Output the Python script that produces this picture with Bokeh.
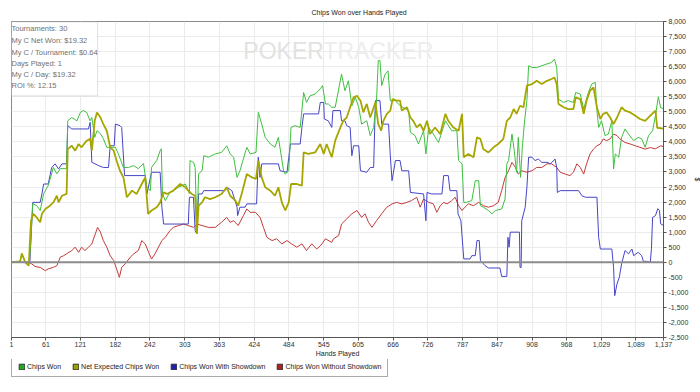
from bokeh.plotting import figure
from bokeh.layouts import column
from bokeh.models import (Range1d, FixedTicker, SingleIntervalTicker, NumeralTickFormatter,
                          Span, Legend, LegendItem, Label, BoxAnnotation)
from bokeh.embed import file_html
from bokeh.resources import INLINE

# ---------------- data ----------------
TITLE = "Chips Won over Hands Played"
X_LABEL = "Hands Played"
Y_LABEL = "$"
x_ticks = [1, 61, 121, 182, 242, 303, 363, 424, 484, 545, 605, 666, 726, 787, 847, 908, 968, 1029, 1089, 1137]
series_names = ["Chips Won", "Net Expected Chips Won", "Chips Won With Showdown", "Chips Won Without Showdown"]
stats_lines = ["Tournaments: 30", "My C Net Won: $19.32", "My C / Tournament: $0.64",
               "Days Played: 1", "My C / Day: $19.32", "ROI %: 12.15"]

# (hand, chips)
chips_won = [(1,0),(16,30),(19,290),(25,0),(31,-110),(34,500),(38,1950),(45,1880),(51,1720),(57,2280),(65,2550),
    (74,3150),(80,2940),(86,3110),(97,3110),(99,4700),(106,4810),(115,4700),(121,4980),(126,5040),(132,4980),
    (138,4700),(141,4810),(146,4150),(150,4370),(156,4270),(161,4110),(167,3820),(173,3820),(182,3820),(187,3610),
    (196,3150),(205,3150),(214,3210),(222,3110),(231,3280),(237,2490),(243,2380),(245,3150),(254,3380),(260,3710),
    (262,3770),(264,2280),(269,2050),(277,2320),(283,2380),(292,2490),(304,2600),(311,2280),(312,3380),(318,3320),
    (321,3150),(324,1050),(327,2940),(333,3040),(336,3540),(344,3490),(356,3600),(367,3650),(376,3870),(382,3600),
    (388,3490),(394,2820),(399,3040),(411,3820),(417,3600),(427,3650),(431,4980),(437,4590),(443,4150),(452,3930),
    (460,3820),(466,4150),(475,3040),(478,2930),(484,3040),(488,4480),(495,4540),(504,4480),(510,5640),(515,5310),
    (521,5530),(530,5590),(539,5760),(543,5870),(548,5260),(553,5260),(559,5150),(565,5150),(576,6250),(582,5700),
    (588,6030),(594,5200),(600,5480),(606,5150),(611,4590),(620,4700),(626,4210),(632,4480),(637,5370),(640,6700),
    (643,6700),(646,5870),(652,6250),(657,6360),(661,5370),(670,5370),(678,5200),(693,5040),(696,4320),(704,4210),
    (710,3930),(719,4370),(723,3600),(728,4480),(736,4260),(745,3980),(757,4700),(768,4370),(777,4370),(780,3380),
    (786,3270),(789,1990),(794,1990),(803,2050),(809,2710),(815,2710),(818,1880),(823,1830),(832,1720),(838,1610),
    (844,1720),(855,1770),(861,2100),(864,3270),(867,3380),(873,4260),(877,3710),(881,2990),(884,4150),(888,2820),
    (891,3820),(895,4700),(899,5370),(902,6530),(908,6470),(916,6470),(925,6530),(934,6590),(942,6640),(947,6750),
    (951,6470),(954,5420),(963,5310),(971,5370),(980,5310),(984,5640),(992,5590),(998,5090),(1002,5370),(1006,5640),
    (1012,5920),(1018,5980),(1021,5040),(1024,4480),(1029,4700),(1035,4210),(1041,4260),(1047,4700),(1050,3100),
    (1053,3600),(1059,3490),(1064,4150),(1070,4430),(1076,4260),(1085,4040),(1093,4150),(1099,4100),(1105,3820),
    (1111,4210),(1118,4370),(1123,4870),(1128,5500),(1132,5140),(1137,5100)]

net_expected = [(1,0),(16,30),(19,290),(25,0),(31,-110),(35,1380),(39,1610),(45,1490),(51,1330),(54,1610),(60,1770),
    (68,1880),(74,1990),(80,2210),(83,1990),(89,2210),(97,2270),(99,3760),(106,3870),(112,3710),(118,3930),(123,3820),
    (132,4040),(138,4100),(141,3710),(146,4700),(150,4980),(156,4810),(161,4590),(167,4370),(173,3820),(179,3710),
    (184,3380),(190,3040),(196,2820),(202,2160),(211,2380),(219,2270),(228,2600),(234,2820),(239,1610),(245,1720),
    (254,1830),(260,1990),(266,2320),(272,2270),(283,2380),(286,2440),(295,2600),(304,2490),(309,2380),(315,2270),
    (321,2210),(324,940),(327,1880),(333,1990),(338,2160),(347,2100),(356,2160),(367,2270),(376,2490),(382,2210),
    (391,2050),(396,1880),(402,2270),(411,2930),(420,2820),(427,2770),(431,3380),(437,2820),(443,2490),(452,2380),
    (460,2210),(466,2490),(472,1990),(478,1720),(484,1990),(488,2600),(498,2600),(507,2550),(510,3650),(518,3600),
    (530,3650),(539,3930),(545,3600),(550,3930),(559,3490),(565,4040),(574,4480),(579,4700),(585,4810),(591,5150),
    (597,5480),(603,5530),(609,5370),(614,4980),(620,5260),(626,4810),(635,5310),(640,4590),(645,4370),(649,4700),
    (655,4930),(661,5040),(665,5420),(672,5370),(678,5370),(681,5040),(690,5150),(696,4810),(701,4700),(707,4480),
    (713,4590),(719,4370),(725,4700),(730,4260),(739,4480),(748,4260),(757,4930),(762,4700),(771,4480),(780,4370),
    (786,4930),(789,3490),(797,3600),(806,3490),(812,4150),(818,4100),(823,3760),(832,3650),(841,3820),(849,3930),
    (858,4100),(864,4700),(870,4810),(876,5090),(881,4930),(887,5200),(893,5150),(899,5870),(908,5920),(916,6030),
    (925,5920),(934,6030),(942,6090),(947,6140),(951,5920),(954,5260),(963,5150),(971,5090),(980,5090),(984,5480),
    (992,5420),(998,4930),(1003,5370),(1009,5700),(1015,5810),(1021,5150),(1027,4760),(1032,4930),(1038,4980),
    (1044,4810),(1050,4590),(1056,4810),(1064,5150),(1070,5040),(1079,4980),(1088,4870),(1096,4760),(1105,4700),
    (1114,4870),(1123,5040),(1126,4470),(1137,4440)]

with_showdown = [(1,0),(16,0),(25,0),(33,0),(38,1990),(51,1990),(54,2270),(57,2600),(65,2600),(71,3150),(77,3270),
    (83,3100),(89,3270),(97,3270),(99,4540),(106,4430),(135,4430),(138,4650),(141,3320),(153,3210),(161,3150),
    (170,3150),(173,3870),(180,3870),(182,4590),(190,4540),(193,4480),(198,2880),(234,2880),(237,2270),(245,2990),
    (260,2990),(263,1830),(266,1270),(309,1270),(311,2160),(318,2160),(321,1050),(324,940),(327,2270),(333,2270),
    (336,2380),(373,2380),(376,2490),(385,2380),(394,1830),(395,1550),(399,1830),(408,1830),(411,1940),(428,1940),
    (431,3490),(434,2820),(437,3270),(466,3270),(469,3040),(481,2990),(487,3930),(504,3930),(507,4480),(510,4930),
    (536,4930),(539,5310),(545,5310),(546,4760),(553,4700),(559,4480),(561,5040),(574,5040),(576,4700),(582,4700),
    (585,4540),(591,4480),(594,3540),(597,3870),(606,3870),(609,3040),(620,2990),(626,3150),(632,3150),(635,5370),
    (643,5370),(646,4590),(658,4590),(661,3540),(664,2710),(670,3380),(678,3380),(681,3040),(693,3040),(696,2320),
    (719,2270),(723,1380),(725,2320),(733,2270),(751,2270),(754,2880),(762,2880),(765,2380),(777,2380),(779,1610),
    (784,1380),(789,110),(800,110),(803,220),(809,220),(812,720),(816,720),(818,60),(826,-110),(832,-190),(852,-190),
    (855,-470),(864,-470),(866,830),(868,500),(870,1000),(886,1000),(887,-170),(889,-170),(890,1380),(896,1830),
    (899,2490),(902,3490),(908,3490),(913,3380),(919,3430),(925,3320),(934,3320),(940,3270),(948,3430),(951,3150),
    (952,2320),(957,2380),(989,2380),(995,2210),(1001,2160),(1021,2160),(1024,830),(1027,440),(1047,440),(1050,-170),
    (1052,-1110),(1056,-720),(1060,-500),(1064,-50),(1070,390),(1076,280),(1082,440),(1085,220),(1093,330),(1099,220),
    (1102,30),(1108,30),(1114,0),(1116,450),(1118,1490),(1123,1550),(1127,1780),(1130,1720),(1132,1280),(1137,1220)]

without_showdown = [(1,0),(16,0),(25,0),(31,0),(36,-50),(42,-140),(51,-170),(60,-280),(65,-220),(74,-170),(80,-110),
    (86,170),(92,220),(97,280),(106,390),(112,500),(118,330),(123,500),(129,390),(135,500),(141,610),(147,940),
    (151,1160),(156,1000),(161,720),(167,500),(173,220),(179,60),(184,-220),(189,-500),(193,-170),(199,-50),(208,170),
    (214,280),(222,390),(228,720),(234,610),(240,330),(245,110),(251,280),(257,500),(263,720),(269,830),(277,1050),
    (283,1160),(292,1220),(301,1270),(309,1220),(318,1160),(324,1270),(333,1220),(344,1160),(356,1160),(367,1330),
    (376,1490),(382,1330),(388,1380),(396,1220),(405,1550),(411,1770),(417,1660),(426,1660),(434,1490),(440,1160),
    (446,830),(455,720),(463,780),(472,610),(481,720),(489,610),(498,500),(507,610),(515,390),(524,610),(533,440),
    (542,610),(548,780),(559,660),(562,780),(571,890),(576,1270),(585,1440),(594,1610),(603,1720),(611,1490),
    (617,1610),(623,1330),(629,1160),(637,1380),(646,1610),(655,1830),(664,1940),(672,1990),(681,1940),(690,1990),
    (698,2050),(707,2160),(713,1830),(719,2100),(728,1990),(736,1940),(742,1660),(748,1880),(754,1990),(760,1940),
    (768,2050),(774,2160),(780,1880),(786,1720),(791,1830),(797,1940),(806,1880),(815,1990),(823,1880),(832,1830),
    (841,1880),(849,1990),(855,2380),(861,2820),(867,3040),(873,3320),(879,3150),(884,2930),(890,3040),(899,2990),
    (908,3040),(916,3150),(925,3150),(934,3270),(942,3270),(951,3150),(957,2990),(966,2930),(974,2880),(980,2990),
    (986,3270),(992,3150),(998,2930),(1003,3270),(1009,3600),(1015,3760),(1021,3870),(1027,3930),(1032,4100),
    (1038,4040),(1044,4100),(1050,4260),(1056,4210),(1061,4100),(1070,3980),(1079,3930),(1088,3870),(1096,3820),
    (1105,3760),(1114,3810),(1123,3770),(1132,3870),(1137,3840)]

# ---------------- styling ----------------
FONT = "Liberation Sans"
line_colors = ["#3fbf3f", "#a6a600", "#4545c8", "#c23a3a"]
line_widths = [1, 1.8, 1, 1]
legend_colors = ["#22aa22", "#a0a000", "#1f1fb0", "#b01f1f"]
NAN = float("nan")

p = figure(frame_width=652, frame_height=316, output_backend="svg", toolbar_location=None,
           x_range=Range1d(1, 1137), y_range=Range1d(-2500, 8000), y_axis_location="right",
           min_border_left=11, min_border_right=37, min_border_top=21, min_border_bottom=0)

p.title.text = TITLE
p.title.align = "left"
p.title.text_font = FONT
p.title.text_font_size = "7px"
p.title.text_font_style = "normal"
p.title.text_color = "#222222"
p.title.standoff = 11
p.title.offset = 300

p.outline_line_color = "#8a8a8a"
p.outline_line_width = 1
p.xgrid.grid_line_color = "#ebebeb"
p.ygrid.grid_line_color = "#ebebeb"

ya = p.yaxis[0]
ya.ticker = SingleIntervalTicker(interval=500, num_minor_ticks=0)
ya.formatter = NumeralTickFormatter(format="0,0")
ya.major_label_text_font = FONT
ya.major_label_text_font_size = "7px"
ya.major_label_text_color = "#333333"
ya.major_tick_out = 3
ya.major_tick_in = 0
ya.minor_tick_out = 0
ya.minor_tick_in = 0
ya.major_label_standoff = 2
ya.axis_line_color = "#555555"
ya.major_tick_line_color = "#555555"
ya.axis_label = Y_LABEL
ya.axis_label_text_font = FONT
ya.axis_label_text_font_size = "7px"
ya.axis_label_text_font_style = "normal"
ya.axis_label_text_color = "#222222"
ya.axis_label_standoff = 3

xa = p.xaxis[0]
xa.ticker = FixedTicker(ticks=x_ticks)
xa.formatter = NumeralTickFormatter(format="0,0")
xa.major_label_text_font = FONT
xa.major_label_text_font_size = "7px"
xa.major_label_text_color = "#333333"
xa.major_tick_out = 3
xa.major_tick_in = 0
xa.minor_tick_out = 0
xa.minor_tick_in = 0
xa.major_label_standoff = 1
xa.axis_line_color = "#555555"
xa.major_tick_line_color = "#555555"
xa.axis_label = X_LABEL
xa.axis_label_text_font = FONT
xa.axis_label_text_font_size = "7px"
xa.axis_label_text_font_style = "normal"
xa.axis_label_text_color = "#222222"
xa.axis_label_standoff = 0

# watermark
p.add_layout(Label(x=405, y=6600, text="POKER", text_font=FONT, text_font_size="23px",
                   text_color="#e2e2e2", level="underlay"))
p.add_layout(Label(x=405, y=6600, x_offset=80, text="TRACKER", text_font=FONT, text_font_size="23px",
                   text_color="#ededed", level="underlay"))

p.add_layout(Span(location=0, dimension="width", line_color="#8c8c8c", line_width=2))

series = [chips_won, net_expected, with_showdown, without_showdown]
draw_order = [3, 2, 0, 1]
for i in draw_order:
    xs = [h for h, v in series[i]]
    ys = [v for h, v in series[i]]
    p.line(xs, ys, line_color=line_colors[i], line_width=line_widths[i])

# stats box
p.add_layout(BoxAnnotation(left=1, right=151, top=7990, bottom=5530, fill_color="white", fill_alpha=1.0,
                           line_color="#9a9a9a", line_width=1))
stats_y = [7760, 7360, 6960, 6600, 6230, 5870]
for t, yy in zip(stats_lines, stats_y):
    p.add_layout(Label(x=1, y=yy, x_offset=0, text=t, text_font=FONT, text_font_size="7.5px",
                       text_color="#707070", text_baseline="middle"))

# ---------------- legend strip ----------------
lg = figure(width=700, height=32, output_backend="svg", toolbar_location=None,
            x_range=Range1d(0, 700), y_range=Range1d(0, 32),
            x_axis_location=None, y_axis_location=None,
            min_border_left=0, min_border_right=0, min_border_top=0, min_border_bottom=0)
lg.outline_line_color = None
lg.xgrid.visible = False
lg.ygrid.visible = False
# swatch renderers hold no visible mark (NaN), they only provide the legend glyphs
swatches = [lg.quad(left=[NAN], right=[NAN], top=[NAN], bottom=[NAN], fill_color=c,
                    line_color="#333333", line_width=1) for c in legend_colors]
legend = Legend(items=[LegendItem(label=n, renderers=[r]) for n, r in zip(series_names, swatches)],
                orientation="horizontal", location=(0, 14),
                label_text_font=FONT, label_text_font_size="7px", label_text_color="#222222",
                label_height=7, label_standoff=2, glyph_width=7, glyph_height=7,
                spacing=11, padding=6, margin=0,
                border_line_color="#555555", border_line_width=1, background_fill_color="white")
lg.add_layout(legend)

open("out.html", "w").write(file_html(column(p, lg), INLINE, title=TITLE))
